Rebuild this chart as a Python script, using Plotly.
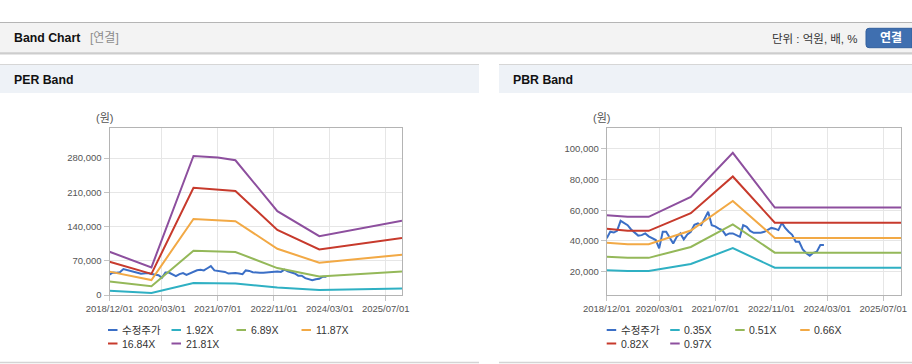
import plotly.graph_objects as go

W, H = 912, 364

# ---------------- data ----------------
x_tick_vals = ['2018-12-01', '2020-03-01', '2021-07-01', '2022-11-01', '2024-03-01', '2025-07-01']
x_tick_text = ['2018/12/01', '2020/03/01', '2021/07/01', '2022/11/01', '2024/03/01', '2025/07/01']

price_name = '수정주가'
price_dates = [
    '2018-12-01',
    '2019-01-01', '2019-02-01', '2019-03-01', '2019-04-01', '2019-05-01', '2019-06-01',
    '2019-07-01', '2019-08-01', '2019-09-01', '2019-10-01', '2019-11-01', '2019-12-01',
    '2020-01-01', '2020-02-01', '2020-03-01', '2020-04-01', '2020-05-01', '2020-06-01',
    '2020-07-01', '2020-08-01', '2020-09-01', '2020-10-01', '2020-11-01', '2020-12-01',
    '2021-01-01', '2021-02-01', '2021-03-01', '2021-04-01', '2021-05-01', '2021-06-01',
    '2021-07-01', '2021-08-01', '2021-09-01', '2021-10-01', '2021-11-01', '2021-12-01',
    '2022-01-01', '2022-02-01', '2022-03-01', '2022-04-01', '2022-05-01', '2022-06-01',
    '2022-07-01', '2022-08-01', '2022-09-01', '2022-10-01', '2022-11-01', '2022-12-01',
    '2023-01-01', '2023-02-01', '2023-03-01', '2023-04-01', '2023-05-01', '2023-06-01',
    '2023-07-01', '2023-08-01', '2023-09-01', '2023-10-01', '2023-11-01', '2023-12-01',
    '2024-01-01', '2024-02-01',
]
price_values = [
    41700,
    46000, 45500, 46600, 53100, 51500, 50300, 47500, 45500, 43500, 43800, 44900, 43000,
    41700, 40600, 35200, 46000, 46000, 41700, 38400, 42700, 44900, 41000, 44300, 46000,
    50500, 51400, 50300, 54700, 59000, 50300, 49500, 48000, 47100, 43800, 44900, 44900,
    44000, 42700, 50300, 49200, 46500, 45300, 45300, 45300, 46000, 47100, 48500, 48000,
    47100, 51800, 48500, 46000, 44000, 39500, 39500, 34500, 32000, 30400, 32300, 33000,
    37300, 37300,
]

# PER band
per_names = ['1.92X', '6.89X', '11.87X', '16.84X', '21.81X']
per_dates = ['2018-12-01', '2019-12-01', '2020-12-01', '2021-07-01', '2021-12-01',
             '2022-12-01', '2023-12-01', '2025-11-20']
per_192 = [8500, 4000, 24500, 24300, 23600, 15300, 10400, 13500]
per_689 = [27500, 18000, 90500, 89000, 88000, 55000, 38000, 47800]
per_1187 = [47800, 30600, 155500, 153000, 151000, 94500, 66000, 82400]
per_1684 = [68000, 43200, 219300, 215500, 212800, 133000, 93200, 116500]
per_2181 = [88400, 56500, 284300, 281000, 275500, 171500, 120400, 151600]

# PBR band
pbr_names = ['0.35X', '0.51X', '0.66X', '0.82X', '0.97X']
pbr_dates = ['2018-12-01', '2019-06-01', '2019-12-01', '2020-12-01', '2021-12-01',
             '2022-12-01', '2025-12-02']
pbr_035 = [21000, 20400, 20400, 25000, 35300, 22600, 22600]
pbr_051 = [29700, 29000, 29000, 36100, 50800, 32400, 32400]
pbr_066 = [38800, 37900, 37900, 46800, 66100, 42000, 42000]
pbr_082 = [47900, 46700, 46600, 58100, 82000, 51900, 51900]
pbr_097 = [56800, 55700, 55700, 68700, 97400, 61800, 61800]

band_colors = ['#2fb0c3', '#94b859', '#f2a945', '#c73a2c', '#8d4f9e']
price_color = '#3b6fc6'

FONT = 'Liberation Sans, Arial, Noto Sans CJK KR, sans-serif'


def fx(px):
    return px / W


def fy(py):
    return 1 - py / H


fig = go.Figure()

# PER traces
fig.add_trace(go.Scatter(x=price_dates, y=price_values, name=price_name, mode='lines',
                         line=dict(color=price_color, width=2), xaxis='x', yaxis='y',
                         showlegend=False, hoverinfo='skip'))
for name, vals, col in zip(per_names, [per_192, per_689, per_1187, per_1684, per_2181], band_colors):
    fig.add_trace(go.Scatter(x=per_dates, y=vals, name=name, mode='lines',
                             line=dict(color=col, width=2), xaxis='x', yaxis='y',
                             showlegend=False, hoverinfo='skip'))

# PBR traces
fig.add_trace(go.Scatter(x=price_dates, y=price_values, name=price_name, mode='lines',
                         line=dict(color=price_color, width=2), xaxis='x2', yaxis='y2',
                         showlegend=False, hoverinfo='skip'))
for name, vals, col in zip(pbr_names, [pbr_035, pbr_051, pbr_066, pbr_082, pbr_097], band_colors):
    fig.add_trace(go.Scatter(x=pbr_dates, y=vals, name=name, mode='lines',
                             line=dict(color=col, width=2), xaxis='x2', yaxis='y2',
                             showlegend=False, hoverinfo='skip'))

axis_common = dict(
    showgrid=True, gridcolor='#e6e6e6', gridwidth=1,
    showline=True, linecolor='#b4b4b4', linewidth=1, mirror=True,
    ticks='outside', ticklen=5, tickcolor='#c4c4c4',
    tickfont=dict(family=FONT, size=9.5, color='#555555'),
    zeroline=False, fixedrange=True, automargin=False,
)

shapes = []
annotations = []


def hline(x0, x1, y, color, width=1):
    shapes.append(dict(type='line', xref='paper', yref='paper', x0=fx(x0), x1=fx(x1),
                       y0=fy(y), y1=fy(y), line=dict(color=color, width=width), layer='below'))


def rect(x0, x1, y0, y1, fill):
    shapes.append(dict(type='rect', xref='paper', yref='paper', x0=fx(x0), x1=fx(x1),
                       y0=fy(y1), y1=fy(y0), fillcolor=fill, line=dict(width=0), layer='below'))


def text(x, y, s, size=12, color='#222', bold=False, xanchor='left'):
    if bold:
        s = '<b>' + s + '</b>'
    annotations.append(dict(xref='paper', yref='paper', x=fx(x), y=fy(y), text=s,
                            showarrow=False, xanchor=xanchor, yanchor='middle',
                            font=dict(family=FONT, size=size, color=color)))


# header bar
rect(0, W, 23, 53, '#f3f3f3')
hline(0, W, 22.5, '#b5b5b5', 1)
hline(0, W, 53.2, '#bcbcbc', 1.2)
hline(0, W, 54.5, '#e6e6e6', 1.2)
text(12, 38.5, 'Band Chart', size=12.3, color='#111', bold=True)
text(88, 38.5, '[연결]', size=12, color='#8c8c8c')
text(860, 38.5, '단위 : 억원, 배, %', size=11.5, color='#333', xanchor='right')

# button (rounded on the left, runs off the right edge)
bx0, bx1, by0, by1, r = 866, 912, 28.3, 47.7, 3
rx, ry = r / W, r / H
path = (f'M{fx(bx0)+rx},{fy(by0)} L{fx(bx1)},{fy(by0)} '
        f'L{fx(bx1)},{fy(by1)} '
        f'L{fx(bx0)+rx},{fy(by1)} Q{fx(bx0)},{fy(by1)} {fx(bx0)},{fy(by1)+ry} '
        f'L{fx(bx0)},{fy(by0)-ry} Q{fx(bx0)},{fy(by0)} {fx(bx0)+rx},{fy(by0)} Z')
shapes.append(dict(type='path', xref='paper', yref='paper', path=path,
                   fillcolor='#3f6fb0', line=dict(color='#33609e', width=1), layer='below'))
text(891, 38.3, '연결', size=12, color='#ffffff', bold=True, xanchor='center')

# panel headers
for (px0, px1, title) in [(0, 479, 'PER Band'), (499, W, 'PBR Band')]:
    rect(px0, px1, 65, 93, '#eef2f7')
    hline(px0, px1, 64.5, '#d6d6d6', 1)
    hline(px0, px1, 362.5, '#d4d4d4', 1.5)
    text(px0 + 12, 80, title, size=12.3, color='#111', bold=True)

# unit labels
text(104, 118, '(원)', size=11, color='#555', xanchor='center')
text(601.5, 118, '(원)', size=11, color='#555', xanchor='center')

# custom legends
col_off = [0, 63.5, 128.5, 193.5]
row_y = [330, 343.5]


def legend(x_start, names, colors):
    for i, (nm, c) in enumerate(zip(names, colors)):
        row, col = divmod(i, 4)
        x0 = x_start + col_off[col]
        y = row_y[row]
        shapes.append(dict(type='line', xref='paper', yref='paper', x0=fx(x0), x1=fx(x0 + 9.5),
                           y0=fy(y), y1=fy(y), line=dict(color=c, width=2)))
        annotations.append(dict(xref='paper', yref='paper', x=fx(x0 + 12), y=fy(y), text=nm,
                                showarrow=False, xanchor='left', yanchor='middle',
                                font=dict(family=FONT, size=10.5, color='#333333')))


legend(108, [price_name] + per_names, [price_color] + band_colors)
legend(606.7, [price_name] + pbr_names, [price_color] + band_colors)

fig.update_layout(
    width=W, height=H,
    margin=dict(l=0, r=0, t=0, b=0, pad=0, autoexpand=False),
    paper_bgcolor='#ffffff', plot_bgcolor='#ffffff',
    showlegend=False,
    xaxis=dict(domain=[fx(109.5), fx(402)], type='date', range=['2018-12-01', '2025-11-20'],
               tickvals=x_tick_vals, ticktext=x_tick_text, anchor='y', **axis_common),
    yaxis=dict(domain=[fy(295), fy(128.3)], range=[0, 340800], dtick=70000, tick0=0,
               tickformat=',d', anchor='x', **axis_common),
    xaxis2=dict(domain=[fx(606.7), fx(901)], type='date', range=['2018-12-01', '2025-12-02'],
                tickvals=x_tick_vals, ticktext=x_tick_text, anchor='y2', **axis_common),
    yaxis2=dict(domain=[fy(295), fy(128.3)], range=[4800, 113400], dtick=20000, tick0=0,
                tickformat=',d', anchor='x2', **axis_common),
    shapes=shapes,
    annotations=annotations,
    hovermode=False,
)

fig.write_html('out.html', config={'displayModeBar': False},
               post_script="document.body.style.margin='0px';")
